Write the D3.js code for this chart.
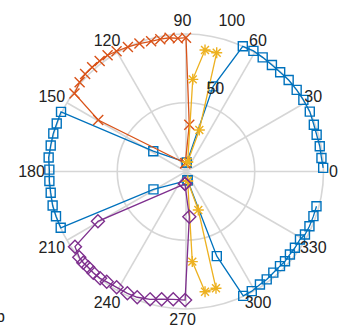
<html><head>
<script src="https://d3js.org/d3.v7.min.js"></script>
<style>
  body { margin: 0; background: #fff; }
  text { font-family: "Liberation Sans", Arial, sans-serif; font-size: 16px; fill: #222; }
  .grid { stroke: #d6d6d6; stroke-width: 1.6; fill: none; }
  .series { fill: none; stroke-width: 1.3; }
</style>
</head>
<body>
<svg id="polar" width="339" height="329"></svg>
<script>

// angle ticks and radial ticks
const thetaTicks = [0, 30, 60, 90, 120, 150, 180, 210, 240, 270, 300, 330];
const rTicks = [50, 100];
const rMax = 100;

// blue squares (three pieces)
const blueThetaA = [85, 72.3, 65.6, 60.8, 56.1, 51.1, 46.5, 41.7, 36.4, 31.4, 25.8, 20.1, 15.7, 10.7, 5.7, 1.5];
const blueRA     = [6.5, 65, 100, 100.5, 100, 99.5, 99.5, 100, 100, 100, 100, 99, 98.7, 99, 99, 99.8];
const blueThetaB = [345.1, 340.7, 336.1, 332.1, 329.2, 325, 321.4, 317.8, 314.8, 310.8, 306.8, 303.2, 298.8, 294.7, 290, 280];
const blueRB     = [98.2, 98.2, 98.2, 97.9, 96.5, 96.7, 96.7, 97.2, 97, 97.2, 98, 98.2, 99.3, 99.6, 65.5, 6.5];
const blueThetaC = [85, 148.2, 154.5, 159.6, 164, 169.1, 174.2, 179.2, 184, 188.9, 194.3, 199, 204.2, 208.8, 280];
const blueRC     = [6.5, 28, 100.7, 100.3, 100.4, 100.2, 100.4, 99.4, 99.6, 99.6, 100.1, 100, 99.9, 27, 6.5];

// orange crosses
const orangeTheta = [95, 149.6, 145, 140, 136, 132, 128, 124, 120, 115, 110, 105, 101, 97, 93.5, 90, 86, 95];
const orangeR     = [6, 74, 99, 101, 102, 102, 102, 102, 101, 100, 99, 98, 98, 98, 97, 97.3, 34, 6];

// yellow asterisks (two pieces)
const yellowThetaA = [80, 85.8, 81.1, 75.5, 72.2, 80];
const yellowRA     = [7, 67.2, 89.4, 89.2, 31.7, 7];
const yellowThetaB = [280, 287.7, 284.4, 279, 274, 280];
const yellowRB     = [7, 29.4, 87.7, 88.5, 65.7, 7];

// purple diamonds
const purpleTheta = [265, 209.5, 214.1, 218.8, 221.6, 224.4, 227.5, 231.2, 234.3, 239.1, 244.3, 248.8, 254.3, 259.2, 264.3, 269.6, 274.2, 265];
const purpleR     = [9, 73.6, 97.5, 99.6, 99.9, 99.5, 99.8, 99.7, 98.8, 98.2, 98.3, 98.1, 96.6, 94.5, 93.4, 93.5, 33, 9];

const svg = d3.select("#polar");
const cx = 186, cy = 171.5, outer = 137.5;

const rScale = d3.scaleLinear().domain([0, rMax]).range([0, outer]);
const rad = d => (90 - d) * Math.PI / 180;   // lineRadial angle: clockwise from top

const g = svg.append("g").attr("transform", "translate(" + cx + "," + cy + ")");

// grid
g.selectAll(".ring").data(rTicks).enter().append("circle")
  .attr("class", "grid").attr("r", d => rScale(d));
g.selectAll(".spoke").data(thetaTicks).enter().append("line")
  .attr("class", "grid")
  .attr("x1", 0).attr("y1", 0)
  .attr("x2", d => rScale(rMax) * Math.cos(d * Math.PI / 180))
  .attr("y2", d => -rScale(rMax) * Math.sin(d * Math.PI / 180));

const line = d3.lineRadial().angle(d => rad(d.t)).radius(d => rScale(d.r));
const pos = d => [rScale(d.r) * Math.sin(rad(d.t)), -rScale(d.r) * Math.cos(rad(d.t))];

// marker shapes
const markers = {
  square: s => "M" + (-s) + "," + (-s) + "H" + s + "V" + s + "H" + (-s) + "Z",
  cross: s => "M" + (-s) + "," + (-s) + "L" + s + "," + s + "M" + (-s) + "," + s + "L" + s + "," + (-s),
  asterisk: s => {
    let k = s * 0.72;
    return "M0," + (-s) + "V" + s + "M" + (-s) + ",0H" + s +
      "M" + (-k) + "," + (-k) + "L" + k + "," + k + "M" + (-k) + "," + k + "L" + k + "," + (-k);
  },
  diamond: s => "M0," + (-s) + "L" + s + ",0L0," + s + "L" + (-s) + ",0Z"
};

function drawSeries(thetas, rs, color, shape, size) {
  let pts = thetas.map((t, i) => ({ t: t, r: rs[i] }));
  g.append("path").datum(pts)
    .attr("class", "series")
    .attr("stroke", color)
    .attr("d", line);
  g.selectAll(null).data(pts).enter().append("path")
    .attr("transform", d => "translate(" + pos(d) + ")")
    .attr("d", markers[shape](size))
    .attr("fill", "none")
    .attr("stroke", color)
    .attr("stroke-width", 1.4);
}

drawSeries(blueThetaA, blueRA, "#0072BD", "square", 4.5);
drawSeries(blueThetaB, blueRB, "#0072BD", "square", 4.5);
drawSeries(blueThetaC, blueRC, "#0072BD", "square", 4.5);
drawSeries(orangeTheta, orangeR, "#D95319", "cross", 5);
drawSeries(yellowThetaA, yellowRA, "#EDB120", "asterisk", 5.5);
drawSeries(yellowThetaB, yellowRB, "#EDB120", "asterisk", 5.5);
drawSeries(purpleTheta, purpleR, "#7E2F8E", "diamond", 6.5);

// angle labels
svg.selectAll(".tlabel").data(thetaTicks).enter().append("text")
  .attr("x", d => cx - 3.5 + 151 * Math.cos(d * Math.PI / 180))
  .attr("y", d => cy - (d === 270 ? 148 : 151) * Math.sin(d * Math.PI / 180))
  .attr("text-anchor", "middle")
  .attr("dominant-baseline", "central")
  .text(d => d);

// radial labels at 80 degrees
svg.selectAll(".rlabel").data(rTicks).enter().append("text")
  .attr("x", d => cx + rScale(d) * Math.cos(80 * Math.PI / 180) + 8.5)
  .attr("y", d => cy - rScale(d) * Math.sin(80 * Math.PI / 180) - 10)
  .text(d => d);

// panel letter, cut at the left edge as in the source
svg.append("text").attr("x", -4).attr("y", 322).text("b");

</script>
</body>
</html>
